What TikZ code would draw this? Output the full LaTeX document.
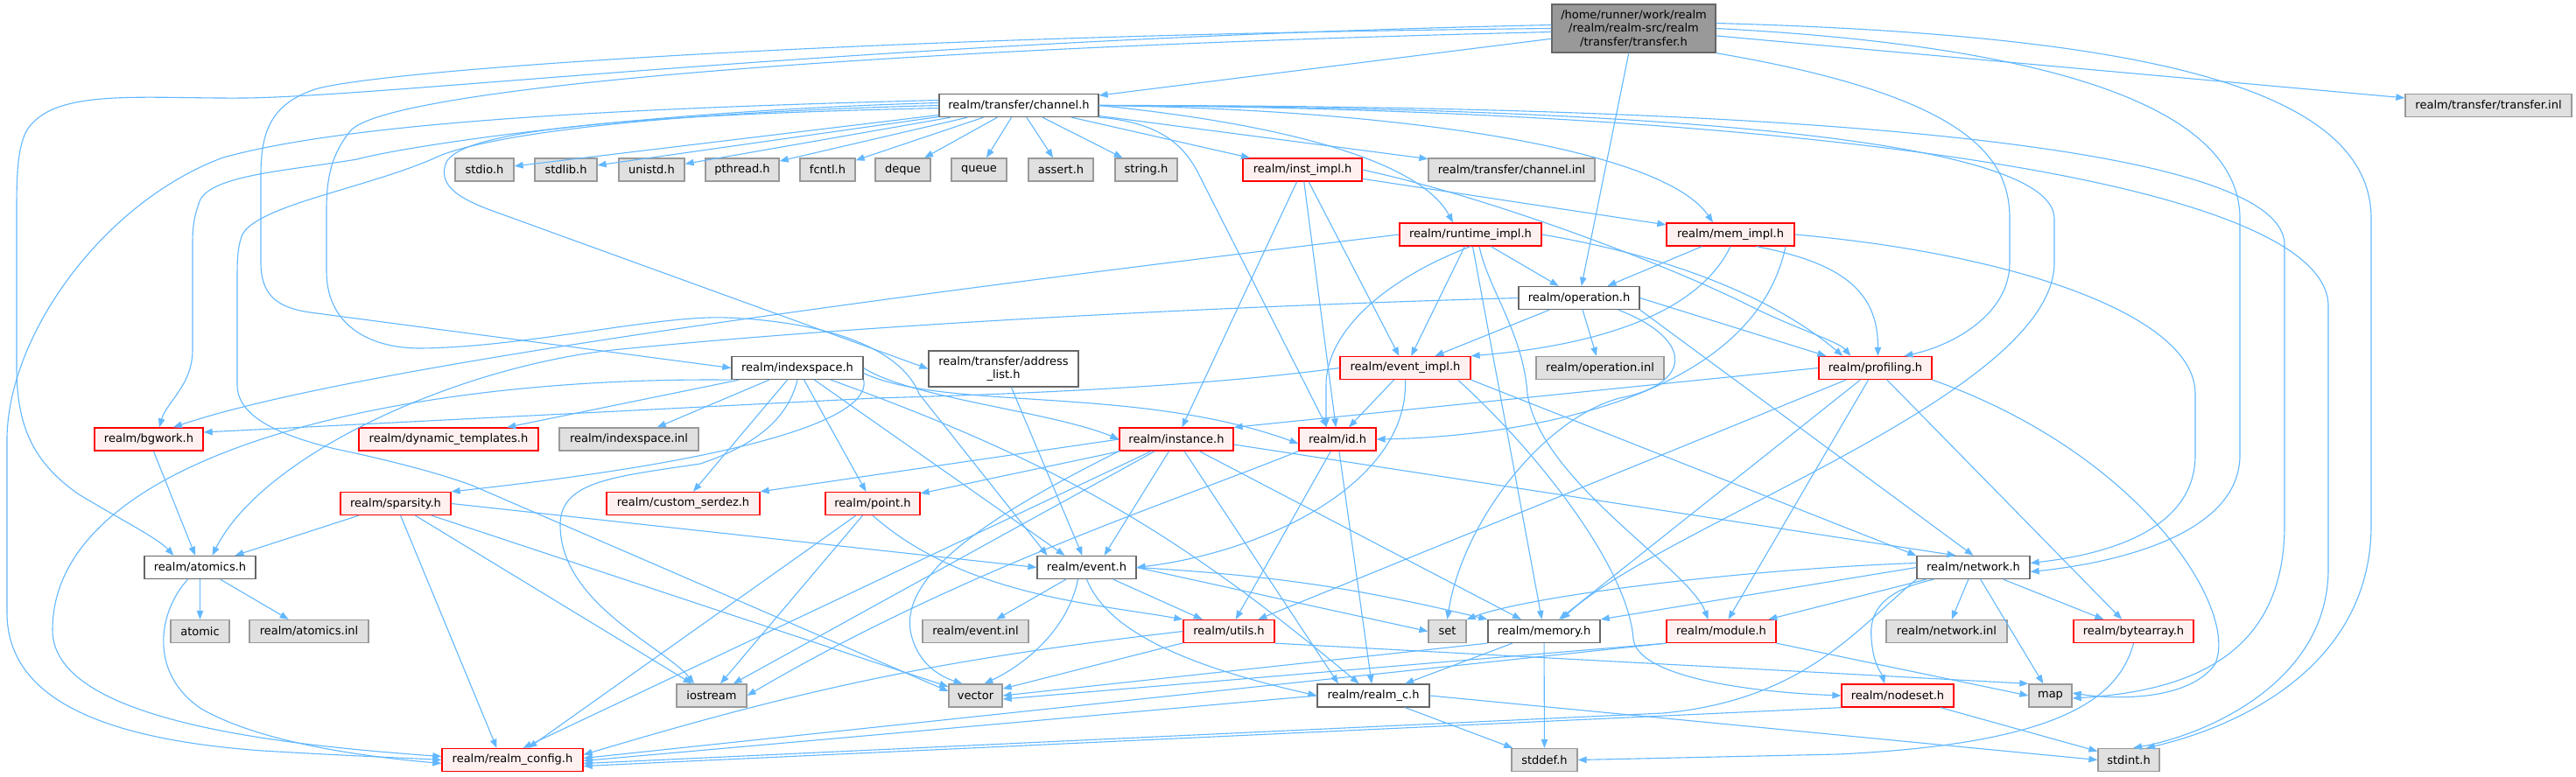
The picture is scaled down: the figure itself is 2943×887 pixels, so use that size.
\documentclass[tikz,border=0pt]{standalone}
\usepackage{fontspec}
\setmainfont{DejaVu Sans}
\usetikzlibrary{arrows.meta}
\definecolor{edgeblue}{HTML}{63B8FF}
\definecolor{redfill}{HTML}{FFF0F0}
\definecolor{extfill}{HTML}{E0E0E0}
\definecolor{extdraw}{HTML}{999999}
\definecolor{plaindraw}{HTML}{666666}
\definecolor{mainfill}{HTML}{999999}
\tikzset{
 box/.style={rectangle, inner sep=0pt, minimum height=26pt, line width=1.3pt, font=\fontsize{13}{15.5}\selectfont, text=black, align=center},
 mainbox/.style={box, fill=mainfill, draw=plaindraw},
 plainbox/.style={box, fill=white, draw=plaindraw},
 redbox/.style={box, fill=redfill, draw=red},
 extbox/.style={box, fill=extfill, draw=extdraw},
 bw/.style={minimum width=#1pt},
 lnk/.style={draw=edgeblue, line width=1.1pt, -{Triangle[length=10pt,width=7.5pt]}},
}
\begin{document}
\begin{tikzpicture}[x=1pt,y=-1pt]
\fill[white] (0,0) rectangle (2943,887);
\useasboundingbox (0,0) rectangle (2943,887);
% nodes
\node[mainbox, bw=187, minimum height=55pt] (transfer) at (1866.5,32.5) {/home/runner/work/realm\\/realm/realm-src/realm\\/transfer/transfer.h};
\node[plainbox, bw=182] (channel) at (1164,120.5) {realm/transfer/channel.h};
\node[extbox, bw=190] (transferinl) at (2843,120.5) {realm/transfer/transfer.inl};
\node[extbox, bw=67] (stdio) at (553.5,194) {stdio.h};
\node[extbox, bw=71] (stdlib) at (646.5,194) {stdlib.h};
\node[extbox, bw=75] (unistd) at (744.5,194) {unistd.h};
\node[extbox, bw=84] (pthread) at (848,194) {pthread.h};
\node[extbox, bw=63] (fcntl) at (945.5,194) {fcntl.h};
\node[extbox, bw=63] (deque) at (1031.5,194) {deque};
\node[extbox, bw=63] (queue) at (1118.5,194) {queue};
\node[extbox, bw=74] (assert) at (1212,194) {assert.h};
\node[extbox, bw=71] (string) at (1309.5,194) {string.h};
\node[redbox, bw=136] (instimpl) at (1488,194) {realm/inst\_impl.h};
\node[extbox, bw=190] (channelinl) at (1727,194) {realm/transfer/channel.inl};
\node[redbox, bw=162] (runtime) at (1680,268) {realm/runtime\_impl.h};
\node[redbox, bw=146] (memimpl) at (1977,268) {realm/mem\_impl.h};
\node[plainbox, bw=138] (operation) at (1804,340.5) {realm/operation.h};
\node[plainbox, bw=150] (indexspace) at (911,420.5) {realm/indexspace.h};
\node[plainbox, bw=171, minimum height=41pt] (addrlist) at (1146.5,421.5) {realm/transfer/address\\\_list.h};
\node[redbox, bw=149] (eventimpl) at (1605.5,420.5) {realm/event\_impl.h};
\node[extbox, bw=146] (opinl) at (1828,420.5) {realm/operation.inl};
\node[redbox, bw=129] (profiling) at (2142.5,420.5) {realm/profiling.h};
\node[redbox, bw=124] (bgwork) at (170,502) {realm/bgwork.h};
\node[redbox, bw=205] (dyntempl) at (512.5,502) {realm/dynamic\_templates.h};
\node[extbox, bw=159] (indexinl) at (718.5,502) {realm/indexspace.inl};
\node[redbox, bw=130] (instance) at (1344,502) {realm/instance.h};
\node[redbox, bw=88] (id) at (1528,502) {realm/id.h};
\node[redbox, bw=126] (sparsity) at (452,575.5) {realm/sparsity.h};
\node[redbox, bw=175] (serdez) at (780.5,575.5) {realm/custom\_serdez.h};
\node[redbox, bw=108] (point) at (997,575.5) {realm/point.h};
\node[plainbox, bw=127] (atomics) at (228.5,648.5) {realm/atomics.h};
\node[plainbox, bw=113] (event) at (1241.5,648.5) {realm/event.h};
\node[plainbox, bw=129] (network) at (2254.5,648.5) {realm/network.h};
\node[extbox, bw=67] (atomic) at (228.5,721.5) {atomic};
\node[extbox, bw=136] (atomicsinl) at (353,721.5) {realm/atomics.inl};
\node[extbox, bw=121] (eventinl) at (1114.5,721.5) {realm/event.inl};
\node[redbox, bw=104] (utils) at (1404,721.5) {realm/utils.h};
\node[extbox, bw=43] (set) at (1653.5,721.5) {set};
\node[plainbox, bw=128] (memory) at (1764,721.5) {realm/memory.h};
\node[redbox, bw=125] (module) at (1966.5,721.5) {realm/module.h};
\node[extbox, bw=138] (netinl) at (2224,721.5) {realm/network.inl};
\node[redbox, bw=137] (bytearray) at (2437.5,721.5) {realm/bytearray.h};
\node[extbox, bw=80] (iostream) at (813,795) {iostream};
\node[extbox, bw=61] (vector) at (1114.5,795) {vector};
\node[plainbox, bw=128] (realmc) at (1569,795) {realm/realm\_c.h};
\node[redbox, bw=128] (nodeset) at (2168,795) {realm/nodeset.h};
\node[extbox, bw=49] (map) at (2342.5,795) {map};
\node[redbox, bw=161] (config) at (585.5,868.5) {realm/realm\_config.h};
\node[extbox, bw=75] (stddef) at (1764.5,868.5) {stddef.h};
\node[extbox, bw=70] (stdint) at (2432,868.5) {stdint.h};

% ---------- transfer.h
\draw[lnk] (transfer) -- (channel);
\draw[lnk] (transfer) -- (transferinl);
\draw[lnk] (transfer) -- (operation);
\draw[lnk] (transfer.south east) .. controls (2250,110) and (2296,180) .. (2296,250) -- (2296,300) .. controls (2296,360) and (2230,395) .. ([xshift=98pt]profiling.north west);
\draw[lnk] (transfer.west) .. controls (1000,40) and (420,80) .. (357,103) .. controls (310,120) and (298,150) .. (298,200) -- (298,300) .. controls (298,340) and (320,352) .. (354,357) -- (indexspace.west);
\draw[lnk] ([yshift=4pt]transfer.west) .. controls (1000,45) and (450,110) .. (280,112) .. controls (160,113) and (60,100) .. (30,150) .. controls (20,170) and (19,200) .. (19,240) -- (19,420) .. controls (19,490) and (40,530) .. (90,565) .. controls (140,595) and (180,615) .. ([xshift=-30pt]atomics.north);
\draw[lnk] ([yshift=-4pt]transfer.west) .. controls (1000,55) and (440,100) .. (400,150) .. controls (380,175) and (373,200) .. (373,240) -- (373,310) .. controls (373,370) and (420,398) .. (480,398) .. controls (600,397) and (750,360) .. (830,363) .. controls (950,368) and (1030,400) .. (1050,450) -- ([xshift=-45pt]event.north);
\draw[lnk] (transfer.east) .. controls (2300,50) and (2559,110) .. (2559,250) -- (2559,520) .. controls (2559,610) and (2420,643) .. ([yshift=-5pt]network.east);
\draw[lnk] ([yshift=6pt]transfer.east) .. controls (2450,40) and (2709,100) .. (2709,250) -- (2709,600) .. controls (2709,760) and (2560,830) .. ([xshift=20pt]stdint.north);

% ---------- channel.h
\foreach \t in {stdio,stdlib,unistd,pthread,fcntl,deque,queue,assert,string,instimpl,channelinl}
  \draw[lnk] (channel) -- (\t);
\draw[lnk] (channel.east) .. controls (1450,140) and (1620,180) .. ([xshift=-20pt]runtime.north);
\draw[lnk] (channel.east) .. controls (1600,125) and (1900,170) .. ([xshift=-20pt]memimpl.north);
\draw[lnk] (channel.south east) .. controls (1330,140) and (1355,170) .. (1370,200) -- ([xshift=-12pt]id.north);
\draw[lnk] ([yshift=6pt]channel.west) .. controls (700,124) and (400,140) .. (255,180) .. controls (120,230) and (10,380) .. (8,500) -- (8,700) .. controls (8,800) and (120,845) .. (300,858) .. controls (400,864) and (460,866) .. (config.west);
\draw[lnk] ([yshift=3pt]channel.west) .. controls (700,128) and (450,170) .. (408,182) .. controls (330,195) and (240,200) .. (228,230) .. controls (221,250) and (220,260) .. (220,280) -- (220,400) .. controls (220,440) and (190,460) .. ([xshift=12pt]bgwork.north);
\draw[lnk] (channel.west) .. controls (700,130) and (540,160) .. (498,180) .. controls (420,215) and (290,235) .. (276,270) .. controls (271,285) and (271,300) .. (271,320) -- (271,440) .. controls (271,480) and (330,500) .. (383,513) .. controls (440,525) and (500,540) .. (540,555) -- ([yshift=5pt]vector.west);
\draw[lnk] ([yshift=-3pt]channel.west) .. controls (700,132) and (530,150) .. (510,185) .. controls (500,210) and (520,225) .. (560,240) -- (addrlist.west);
\draw[lnk] (channel.east) .. controls (1800,122) and (2347,150) .. (2347,250) -- (2347,300) .. controls (2347,450) and (1900,600) .. ([xshift=20pt]memory.north);
\draw[lnk] (channel.east) .. controls (1900,120) and (2610,150) .. (2610,280) -- (2610,600) .. controls (2610,750) and (2500,790) .. ([yshift=-3pt]map.east);
\draw[lnk] (channel.east) .. controls (2000,124) and (2660,200) .. (2660,350) -- (2660,650) .. controls (2660,780) and (2520,840) .. ([xshift=5pt]stdint.north);

% ---------- inst_impl.h
\draw[lnk] (instimpl) -- (memimpl);
\draw[lnk] (instimpl.east) .. controls (1700,225) and (1900,300) .. (2000,350) .. controls (2050,375) and (2100,390) .. ([xshift=37pt]profiling.north west);
\draw[lnk] (instimpl) -- (instance);
\draw[lnk] (instimpl) -- (id);
\draw[lnk] (instimpl) -- (eventimpl);

% ---------- runtime_impl.h
\draw[lnk] (runtime) -- (operation);
\draw[lnk] (runtime) -- (eventimpl);
\draw[lnk] (runtime.south) .. controls (1580,320) and (1515,380) .. (1515,440) -- ([xshift=-13pt]id.north);
\draw[lnk] (runtime.west) .. controls (1000,340) and (400,420) .. ([xshift=28pt]bgwork.north);
\draw[lnk] (runtime.east) .. controls (1950,300) and (2050,360) .. ([xshift=28pt]profiling.north west);
\draw[lnk] ([xshift=10pt]runtime.south) .. controls (1700,330) and (1740,380) .. (1745,450) .. controls (1760,550) and (1930,650) .. ([xshift=-15pt]module.north);
\draw[lnk] (runtime) -- (memory);

% ---------- mem_impl.h
\draw[lnk] (memimpl) -- (operation);
\draw[lnk] (memimpl.south) .. controls (1930,380) and (1760,400) .. (eventimpl.north east);
\draw[lnk] ([xshift=30pt]memimpl.south) .. controls (2100,300) and (2146,330) .. ([xshift=68pt]profiling.north west);
\draw[lnk] (memimpl.east) .. controls (2300,290) and (2508,360) .. (2508,450) -- (2508,520) .. controls (2508,600) and (2420,632) .. ([yshift=5pt]network.east);
\draw[lnk] ([xshift=63pt]memimpl.south) .. controls (2000,470) and (1700,500) .. (id.east);

% ---------- operation.h
\draw[lnk] (operation) -- (eventimpl);
\draw[lnk] (operation) -- (opinl);
\draw[lnk] (operation.east) -- ([xshift=9pt]profiling.north west);
\draw[lnk] (operation.south east) -- (network.north);
\draw[lnk] ([xshift=45pt]operation.south) .. controls (1940,390) and (1930,440) .. (1850,455) .. controls (1760,480) and (1670,600) .. (set.north);
\draw[lnk] (operation.west) .. controls (1400,350) and (1000,370) .. (700,400) .. controls (520,420) and (300,520) .. ([xshift=14pt]atomics.north);

% ---------- event_impl.h
\draw[lnk] (eventimpl) -- (id);
\draw[lnk] (eventimpl.south) .. controls (1610,550) and (1450,630) .. (event.east);
\draw[lnk] (eventimpl.west) .. controls (1350,445) and (1100,452) .. (1000,455) -- ([yshift=8pt]bgwork.east);
\draw[lnk] ([xshift=-15pt]eventimpl.south east) .. controls (1760,520) and (1860,650) .. (1866,730) .. controls (1870,770) and (1980,790) .. (nodeset.west);
\draw[lnk] (eventimpl.south east) -- (network.north west);

% ---------- profiling.h
\draw[lnk] (profiling.west) -- (instance.north east);
\draw[lnk] (profiling) -- (bytearray);
\draw[lnk] (profiling.south east) .. controls (2450,520) and (2560,700) .. (2530,760) .. controls (2500,800) and (2420,800) .. ([yshift=3pt]map.east);
\draw[lnk] (profiling) -- (memory);
\draw[lnk] (profiling) -- (module);
\draw[lnk] (profiling) -- (utils);

% ---------- indexspace.h
\draw[lnk] (indexspace) -- (dyntempl);
\draw[lnk] (indexspace) -- (indexinl);
\draw[lnk] (indexspace.south east) .. controls (995,470) and (900,520) .. (sparsity.north east);
\draw[lnk] (indexspace) -- (serdez);
\draw[lnk] (indexspace) -- (point);
\draw[lnk] (indexspace) -- ([xshift=-25pt]event.north);
\draw[lnk] (indexspace.south west) .. controls (450,430) and (60,520) .. (60,720) .. controls (60,820) and (300,850) .. ([yshift=4pt]config.west);
\draw[lnk] (indexspace.south) .. controls (900,480) and (860,510) .. (800,530) .. controls (700,545) and (640,550) .. (640,600) .. controls (640,690) and (760,740) .. ([xshift=-20pt]iostream.north);
\draw[lnk] (indexspace.east) .. controls (1040,455) and (1200,470) .. (instance.west);
\draw[lnk] ([yshift=-6pt]indexspace.east) .. controls (1080,470) and (1300,440) .. ([yshift=-5pt]id.west);
\draw[lnk] (indexspace) to[bend left=10] (realmc);

% ---------- sparsity.h
\draw[lnk] (sparsity) -- ([xshift=40pt]atomics.north);
\draw[lnk] (sparsity.east) -- (event.west);
\draw[lnk] (sparsity) -- ([xshift=-18pt]config.north);
\draw[lnk] (sparsity) -- (iostream);
\draw[lnk] (sparsity) -- (vector);

% ---------- point.h
\draw[lnk] (point.south) .. controls (1100,680) and (1250,690) .. (utils.north west);
\draw[lnk] (point) -- ([xshift=18pt]config.north);
\draw[lnk] (point) -- ([xshift=10pt]iostream.north);

% ---------- instance.h
\draw[lnk] (instance.west) -- (serdez.north east);
\draw[lnk] (instance) -- (point);
\draw[lnk] (instance) -- ([xshift=20pt]event.north);
\draw[lnk] (instance) -- (memory);
\draw[lnk] (instance) -- ([xshift=-40pt]realmc.north);
\draw[lnk] (instance.south west) .. controls (1150,580) and (1030,650) .. (1040,720) .. controls (1045,750) and (1065,770) .. ([xshift=-15pt]vector.north);
\draw[lnk] (instance) -- (iostream);
\draw[lnk] (instance) -- ([xshift=12pt]config.north);
\draw[lnk] ([yshift=-6pt]instance.east) -- ([xshift=-20pt]network.north);

% ---------- id.h
\draw[lnk] (id) -- (utils);
\draw[lnk] (id) -- (realmc);
\draw[lnk] (id.south west) .. controls (1350,570) and (1100,650) .. (iostream.east);

% ---------- event.h
\draw[lnk] (event) -- (eventinl);
\draw[lnk] (event) -- (utils);
\draw[lnk] (event.east) -- (set.west);
\draw[lnk] (event.east) to[bend left=5] (memory.north west);
\draw[lnk] (event.south) .. controls (1265,720) and (1350,760) .. (realmc.west);
\draw[lnk] ([xshift=-10pt]event.south) .. controls (1220,720) and (1170,760) .. ([xshift=10pt]vector.north);

% ---------- utils.h
\draw[lnk] (utils) -- (vector);
\draw[lnk] (utils.west) to[bend right=5] ([yshift=6pt]config.east);
\draw[lnk] (utils.south east) -- (map.north west);

% ---------- memory.h
\draw[lnk] (memory) -- (realmc);
\draw[lnk] (memory) -- (stddef);
\draw[lnk] (memory.south west) -- (vector.east);

% ---------- realm_c.h
\draw[lnk] (realmc) -- (stddef);
\draw[lnk] (realmc.east) -- (stdint.west);
\draw[lnk] (realmc.west) -- ([yshift=-1pt]config.east);

% ---------- module.h
\draw[lnk] (module.south east) -- (map.west);
\draw[lnk] (module.south west) -- ([yshift=-4pt]vector.east);
\draw[lnk] (module.south west) -- ([yshift=2pt]config.east);

% ---------- network.h
\draw[lnk] (network) -- (module);
\draw[lnk] (network) -- (netinl);
\draw[lnk] (network) -- (bytearray);
\draw[lnk] (network) -- (map);
\draw[lnk] ([xshift=20pt]network.south west) .. controls (2150,675) and (2135,700) .. (2138,730) .. controls (2140,760) and (2150,770) .. ([xshift=-15pt]nodeset.north);
\draw[lnk] (network.west) -- (memory.north east);
\draw[lnk] ([yshift=5pt]network.west) .. controls (2000,650) and (1750,680) .. (set.north east);
\draw[lnk] (network.south west) .. controls (2120,720) and (2060,800) .. (1900,815) -- ([yshift=-4pt]config.east);

% ---------- nodeset.h, bytearray.h
\draw[lnk] (nodeset.south west) -- ([yshift=-7pt]config.east);
\draw[lnk] (nodeset) -- (stdint);
\draw[lnk] (bytearray.south) .. controls (2420,800) and (2350,850) .. (2100,862) -- (stddef.east);

% ---------- atomics, bgwork, address list
\draw[lnk] (bgwork) -- (atomics);
\draw[lnk] (atomics) -- (atomic);
\draw[lnk] (atomics) -- (atomicsinl);
\draw[lnk] ([xshift=-14pt]atomics.south) .. controls (180,700) and (170,770) .. (230,810) .. controls (300,850) and (420,865) .. ([yshift=-4pt]config.west);
\draw[lnk] (addrlist) -- ([xshift=-5pt]event.north);
\end{tikzpicture}
\end{document}
